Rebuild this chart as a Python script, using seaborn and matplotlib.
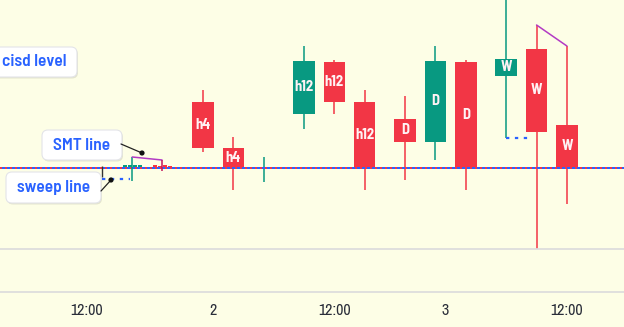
import matplotlib
matplotlib.use("Agg")
import matplotlib.pyplot as plt
import numpy as np
import pandas as pd
import seaborn as sns
from matplotlib import font_manager
from matplotlib.patches import FancyBboxPatch

# ---- higher-timeframe candles (h4 / h12 / D / W), three per timeframe ----
htf_tf = ["h4", "h4", "h4", "h12", "h12", "h12", "D", "D", "D", "W", "W", "W"]
htf_text = ["h4", "h4", "", "h12", "h12", "h12", "D", "D", "D", "W", "W", "W"]
htf_open = [106.6, 102.0, 100.0, 105.4, 110.6, 106.6, 104.9, 102.6, 110.6, 109.2, 111.9, 104.3]
htf_high = [107.8, 103.1, 101.1, 112.2, 110.8, 107.8, 107.2, 112.2, 110.8, 119.8, 114.3, 112.2]
htf_low = [101.6, 97.8, 98.6, 103.9, 105.4, 97.8, 98.8, 100.8, 97.8, 103.0, 91.9, 96.4]
htf_close = [102.0, 100.0, 100.0, 110.7, 106.6, 100.0, 102.6, 110.7, 100.0, 110.9, 103.6, 100.0]

# ---- lower-timeframe candles around the sweep ----
ltf_time = [-22.5, -21.5, -20.5, -15.5, -14.5, -13.5, -12.5, -9.5, -8.5, -7.5, -6.5]
ltf_open = [100.0, 100.1, 100.0, 100.0, 100.1, 100.0, 100.1, 100.3, 100.2, 100.3, 100.2]
ltf_close = [100.1, 100.0, 100.1, 100.3, 100.3, 100.3, 100.3, 100.0, 100.0, 100.0, 100.0]
ltf_kind = ["old", "old", "old", "up", "up", "up", "up", "down", "down", "down", "down"]

# ---- levels and drawings ----
cisd_level = 100.0
ltf_smt_time = [-14.0, -8.1]
ltf_smt_price = [101.1, 100.8]
ltf_sweep_time = [-20.0, -14.5]
ltf_sweep_price = 98.9
w_smt_price = [114.3, 112.2]
w_sweep_price = 103.0

# ---- time scale ----
tick_time = [-23, 2, 26, 48, 72]
tick_text = ["12:00", "2", "12:00", "3", "12:00"]

BG = "#fdfee6"
RED = "#f23645"
GREEN = "#089981"
BLUE = "#2962ff"
PURPLE = "#b33bc4"
GRID = "#dcdcdc"

sns.set_theme(style="white", rc={"figure.facecolor": BG, "axes.facecolor": BG,
                                 "savefig.facecolor": BG})
names = {f.name for f in font_manager.fontManager.ttflist}


def pick(*cands):
    for c in cands:
        if c in names:
            return c
    return "DejaVu Sans"


LABEL_FONT = pick("Barlow Semi Condensed", "Asap Condensed", "DejaVu Sans")
TICK_FONT = pick("Archivo Narrow", "Barlow Semi Condensed", "DejaVu Sans")
plt.rcParams["font.family"] = [TICK_FONT, "DejaVu Sans"]

W, H = 624, 327
fig = plt.figure(figsize=(W / 100, H / 100), dpi=100)
ax = fig.add_axes([0, 1 - 249 / H, 1, 249 / H])
ax_low = fig.add_axes([0, 1 - 292 / H, 1, 43 / H])
for a in (ax, ax_low):
    a.set_xlim(-40.16, 83.3)
    for s in a.spines.values():
        s.set_visible(False)
    a.set_yticks([])
ax.set_ylim(91.9, 116.8)
ax.set_xticks([])
ax_low.set_ylim(0, 1)
for side in ("top", "bottom"):
    ax_low.spines[side].set_visible(True)
    ax_low.spines[side].set_color(GRID)
ax_low.set_xticks(tick_time, tick_text)
ax_low.tick_params(axis="x", length=0, pad=8, labelsize=11.5, labelcolor="#2a2e39")

# candle x position: three slots per timeframe group plus a gap between groups
group = {"h4": 0, "h12": 1, "D": 2, "W": 3}
pos = []
seen = {}
for tf in htf_tf:
    i = seen.get(tf, 0)
    seen[tf] = i + 1
    pos.append(20 * group[tf] + 6 * i)

df = pd.DataFrame({"x": pos, "open": htf_open, "high": htf_high, "low": htf_low,
                   "close": htf_close, "text": htf_text})
df["color"] = np.where(df["close"] >= df["open"], GREEN, RED)
df["bottom"] = df[["open", "close"]].min(axis=1)
df["height"] = (df["close"] - df["open"]).abs().clip(lower=0.1)

ax.vlines(df["x"], df["low"], df["high"], colors=df["color"], lw=1.1, zorder=2)
ax.bar(df["x"], df["height"], bottom=df["bottom"], width=4.25, color=df["color"],
       linewidth=0, zorder=3)
for _, r in df.iterrows():
    if r["text"]:
        ax.text(r["x"], r["bottom"] + r["height"] / 2, r["text"], ha="center", va="center",
                color="#fff2f4", fontsize=10.5, fontweight="bold", family=LABEL_FONT,
                zorder=5)

lf = pd.DataFrame({"t": ltf_time, "open": ltf_open, "close": ltf_close, "kind": ltf_kind})
lcol = {"old": "#b2b5be", "up": GREEN, "down": RED}
lf["color"] = lf["kind"].map(lcol)
lf["bottom"] = lf[["open", "close"]].min(axis=1)
lf["height"] = (lf["close"] - lf["open"]).abs().clip(lower=0.1)
ax.bar(lf["t"], lf["height"], bottom=lf["bottom"], width=0.8, color=lf["color"],
       linewidth=0, zorder=3)

# cisd level: alternating red / blue dots, drawn crisp on the pixel grid
ax.axhline(cisd_level, color=RED, lw=1.1, ls=(0, (0.75, 2.13)), zorder=4,
           antialiased=False)
ax.axhline(cisd_level, color=BLUE, lw=1.1, ls=(1.44, (0.75, 2.13)), zorder=4,
           antialiased=False)

# lower-timeframe SMT and sweep
ax.vlines(ltf_smt_time[0], 98.7, ltf_smt_price[0], color=GREEN, lw=1.1, zorder=4)
sns.lineplot(x=ltf_smt_time, y=ltf_smt_price, color=PURPLE, lw=1.1, ax=ax, zorder=4)
ax.vlines(ltf_smt_time[1], 99.7, ltf_smt_price[1], color="#c2185b", lw=1.1, zorder=4)
ax.vlines(ltf_sweep_time[0], 99.1, 100.2, color="#333333", lw=1.0, zorder=4)
ax.hlines(ltf_sweep_price, *ltf_sweep_time, color=BLUE, lw=1.6, ls=(0, (1.5, 2.5)), zorder=4)

# weekly SMT and sweep
sns.lineplot(x=[df["x"][10], df["x"][11]], y=w_smt_price, color=PURPLE, lw=1.1, ax=ax,
             zorder=4)
ax.vlines(df["x"][11], htf_high[11], w_smt_price[1], color=RED, lw=1.1, zorder=2)
ax.vlines(df["x"][10], htf_high[10], w_smt_price[0], color=RED, lw=1.1, zorder=2)
ax.hlines(w_sweep_price, df["x"][9], df["x"][9] + 5, color=BLUE, lw=1.6,
          ls=(0, (1.5, 2.5)), zorder=4)

# callout labels on a pixel-space overlay
ov = fig.add_axes([0, 0, 1, 1])
ov.set_xlim(0, W)
ov.set_ylim(H, 0)
ov.axis("off")
ov.patch.set_alpha(0)

callouts = [("cisd level", (-20, 47, 97, 30), None),
            ("SMT line", (42, 130, 80, 30), ((121, 144), (142, 153))),
            ("sweep line", (6, 172, 95, 31), ((101, 191), (111, 180)))]
dots = []
for text, (x0, y0, w, h), ptr in callouts:
    shadow = FancyBboxPatch((x0 + 1, y0 + 1.5), w, h, boxstyle="round,pad=0,rounding_size=6",
                            fc="#000000", ec="none", alpha=0.10, zorder=6)
    box = FancyBboxPatch((x0, y0), w, h, boxstyle="round,pad=0,rounding_size=6",
                         fc="white", ec="#e3e4e8", lw=0.8, zorder=7)
    ov.add_patch(shadow)
    ov.add_patch(box)
    inside = x0 >= 0
    ov.text(x0 + w / 2 if inside else x0 + w - 11, y0 + h / 2, text,
            ha="center" if inside else "right", va="center", color=BLUE,
            fontsize=12.5, fontweight="semibold", family=LABEL_FONT, zorder=8)
    if ptr:
        (ax0, ay0), (ax1, ay1) = ptr
        ov.plot([ax0, ax1], [ay0, ay1], color="#222222", lw=0.9, zorder=8)
        dots.append((ax1, ay1))
dd = pd.DataFrame(dots, columns=["x", "y"])
sns.scatterplot(data=dd, x="x", y="y", color="#111111", s=14, ax=ov, zorder=9,
                edgecolor="none")
ov.set_xlabel("")
ov.set_ylabel("")

fig.savefig("out.png", dpi=100)
